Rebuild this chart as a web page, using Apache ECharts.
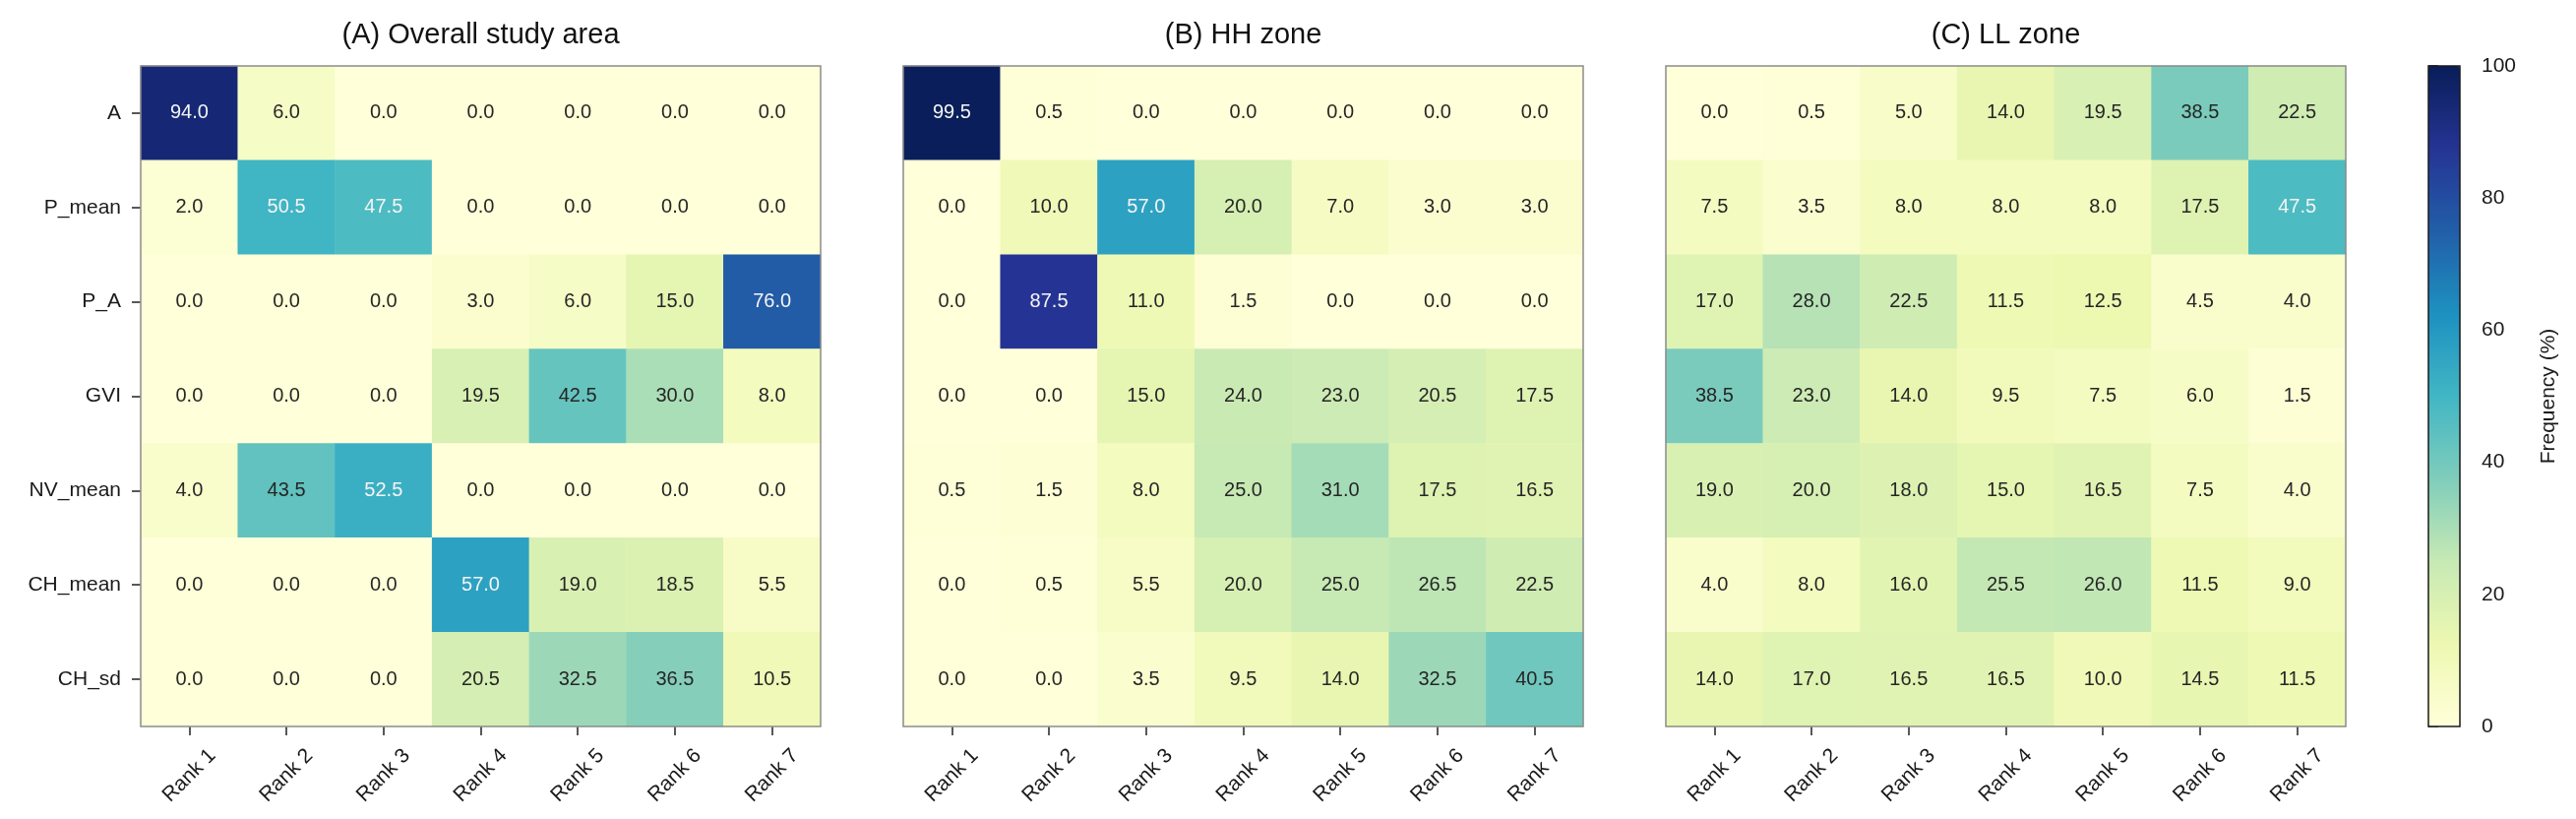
<!DOCTYPE html>
<html>
<head>
<meta charset="utf-8">
<script src="https://cdn.jsdelivr.net/npm/echarts@6/dist/echarts.min.js"></script>
<style>
  html, body { margin: 0; padding: 0; background: #fff; }
  #container { width: 2618px; height: 832px; }
</style>
</head>
<body>
<div id="container"></div>
<script>
const RANKS = ['Rank 1', 'Rank 2', 'Rank 3', 'Rank 4', 'Rank 5', 'Rank 6', 'Rank 7'];
const FACTORS = ['A', 'P_mean', 'P_A', 'GVI', 'NV_mean', 'CH_mean', 'CH_sd'];
const PANEL_TITLES = ['(A) Overall study area', '(B) HH zone', '(C) LL zone'];
const COLORBAR_TICKS = [0, 20, 40, 60, 80, 100];

// rows follow FACTORS, columns follow RANKS
const OVERALL = [
  [94.0, 6.0, 0.0, 0.0, 0.0, 0.0, 0.0],
  [2.0, 50.5, 47.5, 0.0, 0.0, 0.0, 0.0],
  [0.0, 0.0, 0.0, 3.0, 6.0, 15.0, 76.0],
  [0.0, 0.0, 0.0, 19.5, 42.5, 30.0, 8.0],
  [4.0, 43.5, 52.5, 0.0, 0.0, 0.0, 0.0],
  [0.0, 0.0, 0.0, 57.0, 19.0, 18.5, 5.5],
  [0.0, 0.0, 0.0, 20.5, 32.5, 36.5, 10.5]
];
const HH_ZONE = [
  [99.5, 0.5, 0.0, 0.0, 0.0, 0.0, 0.0],
  [0.0, 10.0, 57.0, 20.0, 7.0, 3.0, 3.0],
  [0.0, 87.5, 11.0, 1.5, 0.0, 0.0, 0.0],
  [0.0, 0.0, 15.0, 24.0, 23.0, 20.5, 17.5],
  [0.5, 1.5, 8.0, 25.0, 31.0, 17.5, 16.5],
  [0.0, 0.5, 5.5, 20.0, 25.0, 26.5, 22.5],
  [0.0, 0.0, 3.5, 9.5, 14.0, 32.5, 40.5]
];
const LL_ZONE = [
  [0.0, 0.5, 5.0, 14.0, 19.5, 38.5, 22.5],
  [7.5, 3.5, 8.0, 8.0, 8.0, 17.5, 47.5],
  [17.0, 28.0, 22.5, 11.5, 12.5, 4.5, 4.0],
  [38.5, 23.0, 14.0, 9.5, 7.5, 6.0, 1.5],
  [19.0, 20.0, 18.0, 15.0, 16.5, 7.5, 4.0],
  [4.0, 8.0, 16.0, 25.5, 26.0, 11.5, 9.0],
  [14.0, 17.0, 16.5, 16.5, 10.0, 14.5, 11.5]
];

const YLGNBU = ['#ffffd9', '#edf8b1', '#c7e9b4', '#7fcdbb', '#41b6c4', '#1d91c0', '#225ea8', '#253494', '#081d58'];
const FONT = '"Liberation Sans", Arial, sans-serif';

const panels = [OVERALL, HH_ZONE, LL_ZONE];
const PLOT_TOP = 67, PLOT_H = 671, PLOT_W = 691, PLOT_STEP = 775, PLOT_LEFT = 143;

function toCells(matrix) {
  let cells = [];
  matrix.forEach((row, y) => {
    row.forEach((v, x) => {
      cells.push({
        value: [x, y, v],
        label: { color: v > 45 ? '#f4f4f4' : '#262626' }
      });
    });
  });
  return cells;
}

let mychart = echarts.init(document.getElementById('container'));

var option = {
  animation: false,
  backgroundColor: '#ffffff',
  textStyle: { fontFamily: FONT },
  grid: [],
  xAxis: [],
  yAxis: [],
  series: [],
  graphic: [],
  visualMap: {
    type: 'continuous',
    min: 0,
    max: 100,
    seriesIndex: [0, 1, 2],
    calculable: false,
    orient: 'vertical',
    left: 2468,
    top: PLOT_TOP,
    padding: 0,
    itemWidth: 32,
    itemHeight: PLOT_H,
    text: null,
    showLabel: false,
    inRange: { color: YLGNBU }
  }
};

panels.forEach((matrix, i) => {
  let left = PLOT_LEFT + i * PLOT_STEP;
  option.grid.push({
    left: left, top: PLOT_TOP, width: PLOT_W, height: PLOT_H,
    show: true, z: 3,
    backgroundColor: 'transparent',
    borderColor: '#8c8c8c', borderWidth: 1.5
  });
  option.xAxis.push({
    type: 'category',
    gridIndex: i,
    data: RANKS,
    axisLine: { show: false },
    axisTick: { show: true, alignWithLabel: true, length: 9, lineStyle: { color: '#222', width: 1.5 } },
    axisLabel: {
      rotate: 45, align: 'center', verticalAlign: 'middle', margin: 50,
      fontSize: 21, color: '#1a1a1a', fontFamily: FONT
    },
    splitLine: { show: false },
    splitArea: { show: false }
  });
  option.yAxis.push({
    type: 'category',
    gridIndex: i,
    data: FACTORS,
    inverse: true,
    axisLine: { show: false },
    axisTick: { show: i === 0, alignWithLabel: true, length: 9, lineStyle: { color: '#222', width: 1.5 } },
    axisLabel: { show: i === 0, margin: 20, fontSize: 21, color: '#1a1a1a', fontFamily: FONT },
    splitLine: { show: false },
    splitArea: { show: false }
  });
  option.series.push({
    type: 'heatmap',
    xAxisIndex: i,
    yAxisIndex: i,
    data: toCells(matrix),
    itemStyle: { borderWidth: 0 },
    label: {
      show: true,
      fontSize: 20,
      fontFamily: FONT,
      formatter: p => p.value[2].toFixed(1)
    },
    emphasis: { disabled: true }
  });
  option.graphic.push({
    type: 'text',
    x: left + PLOT_W / 2,
    y: 36,
    style: {
      text: PANEL_TITLES[i],
      fill: '#111',
      font: '29px ' + FONT,
      textAlign: 'center',
      textVerticalAlign: 'middle'
    }
  });
});

// colorbar axis
option.grid.push({
  left: 2468, top: PLOT_TOP, width: 32, height: PLOT_H,
  show: true, z: 10,
  backgroundColor: 'transparent',
  borderColor: '#1a1a1a', borderWidth: 1.5
});
option.xAxis.push({ type: 'value', gridIndex: 3, show: false });
option.yAxis.push({
  type: 'value',
  gridIndex: 3,
  position: 'right',
  min: COLORBAR_TICKS[0],
  max: COLORBAR_TICKS[COLORBAR_TICKS.length - 1],
  interval: COLORBAR_TICKS[1] - COLORBAR_TICKS[0],
  axisLine: { show: false },
  axisTick: { show: true, length: 10, lineStyle: { color: '#1a1a1a', width: 1.5 } },
  axisLabel: { margin: 22, fontSize: 21, color: '#1a1a1a', fontFamily: FONT },
  splitLine: { show: false },
  name: 'Frequency (%)',
  nameLocation: 'middle',
  nameRotate: 90,
  nameGap: 80,
  nameTextStyle: { fontSize: 21, color: '#1a1a1a', fontFamily: FONT }
});

mychart.setOption(option);
</script>
</body>
</html>
